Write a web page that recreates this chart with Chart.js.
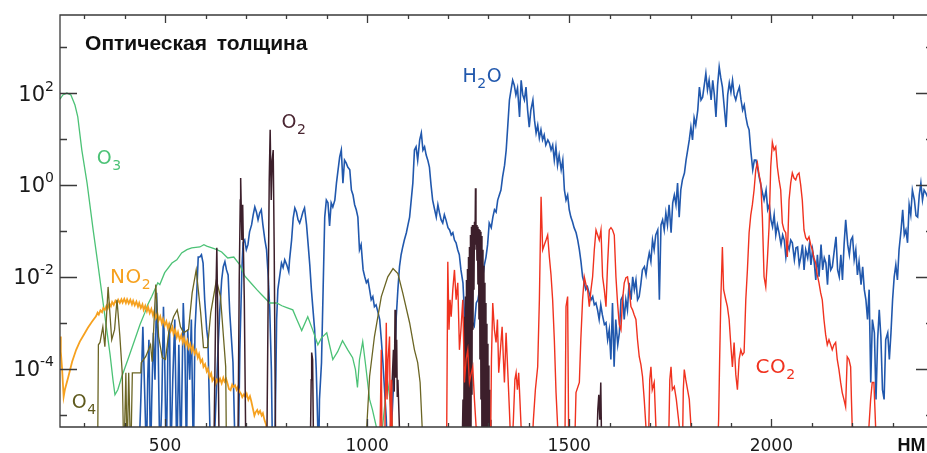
<!DOCTYPE html>
<html><head><meta charset="utf-8">
<script src="https://cdn.jsdelivr.net/npm/chart.js@4.4.1/dist/chart.umd.min.js"></script>
<style>html,body{margin:0;padding:0;overflow:hidden;background:#fff}canvas{display:block}</style>
</head><body>
<canvas id="c" width="934" height="453"></canvas>
<script>
// wavelength (nm), log10(optical depth); -6 = below the plotted range
const h2oLog = [
[435,-6],[440,-4.67],[445,-3.09],[450,-4.67],[454,-6],[457,-4.24],[460,-3.37],[464,-6],[467,-4.67],[471,-3.22],[475,-4.24],[479,-2.35],[483,-3.59],[487,-6],[492,-4.67],[496,-2.65],[499,-3.80],[503,-6],[507,-3.59],[511,-3.00],[514,-6],[519,-4.24],[524,-2.93],[529,-6],[534,-3.48],[539,-6],[545,-2.57],[549,-3.59],[553,-6],[556,-3.15],[561,-4.24],[565,-2.93],[570,-6],[574,-3.15],[578,-2.43],[582,-1.57],[586,-1.57],[590,-1.52],[594,-1.70],[598,-2.50],[603,-3.15],[606,-3.37],[611,-5.33],[615,-6],
[618,-6],[623,-5.33],[630,-3.80],[635,-2.78],[640,-2.07],[644,-1.78],[648,-1.67],[652,-1.85],[656,-1.96],[660,-2.78],[668,-3.87],[672,-5.33],[677,-6],
[681,-6],[685,-3.59],[690,-1.85],[693,-1.26],[697,-1.20],[701,-1.41],[705,-1.30],[709,-1.02],[714,-0.87],[718,-0.65],[722,-0.48],[726,-0.59],[730,-0.76],[734,-0.61],[738,-0.54],[742,-0.87],[747,-1.20],[751,-1.41],[755,-1.96],[759,-2.72],[763,-4.02],[765,-5.33],[766,-6],
[771,-6],[774,-4.24],[776,-2.93],[779,-2.28],[784,-1.96],[788,-1.70],[792,-1.80],[796,-1.63],[801,-1.74],[806,-1.89],[808,-1.63],[813,-1.20],[817,-0.72],[821,-0.50],[825,-0.59],[829,-0.76],[833,-0.83],
[837,-0.72],[841,-0.59],[845,-0.50],[850,-0.87],[854,-1.30],[858,-1.74],[862,-2.28],[866,-2.72],[870,-3.15],[874,-4.02],[878,-5.33],[880,-6],[882,-4.67],[887,-3.87],[891,-2.28],[895,-0.70],[899,-0.33],[903,-0.39],[907,-0.89],[911,-0.39],[915,-0.48],[920,-0.33],[924,0.04],[928,0.33],[932,0.61],[936,0.76],[940,0.04],[944,0.54],[948,0.48],[952,0.39],[957,0.33],[961,-0.11],[965,-0.22],[969,-0.43],[973,-0.54],[977,-0.70],[981,-1.41],[985,-1.30],[990,-1.85],[994,-2.00],[998,-2.13],[1002,-2.07],[1006,-2.28],[1010,-2.50],[1014,-2.43],[1018,-2.65],[1022,-2.61],[1027,-2.78],[1031,-2.93],[1035,-3.37],[1039,-3.87],[1043,-4.46],[1047,-5.04],[1051,-6],
[1055,-6],[1060,-5.33],[1064,-4.57],[1068,-3.96],[1072,-2.87],[1076,-2.28],[1080,-1.78],[1084,-1.52],[1088,-1.35],[1092,-1.20],[1097,-1.04],[1101,-0.87],[1105,-0.70],[1109,-0.33],[1113,0.04],[1117,0.76],[1121,0.83],[1125,0.54],[1130,0.98],[1134,1.13],[1138,0.76],[1142,0.83],[1146,0.65],[1150,0.54],[1154,0.39],[1158,0],[1162,-0.33],[1167,-0.54],[1171,-0.70],[1175,-0.43],[1179,-0.61],[1183,-0.76],[1187,-0.83],[1191,-0.65],[1195,-0.76],[1200,-0.93],[1204,-0.98],[1208,-1.09],[1212,-1.04],[1216,-1.20],[1220,-1.26],[1224,-1.41],[1228,-1.52],[1232,-1.85],[1237,-2.13],[1241,-2.87],[1245,-2.72],[1249,-2.93],[1253,-2.83],[1257,-2.98],[1261,-3.00],[1265,-3.07],[1270,-2.57],[1274,-2.50],[1278,-2.28],[1282,-2.17],[1286,-2.00],[1290,-1.74],[1294,-1.57],[1298,-1.30],[1302,-0.83],[1307,-0.93],[1311,-0.70],[1315,-0.54],[1319,-0.59],[1323,-0.33],[1327,-0.22],[1331,-0.11],[1335,0.17],[1340,0.43],[1344,0.76],[1348,1.30],[1352,1.85],[1356,2.07],[1360,2.28],[1364,2.17],[1368,1.96],[1372,2.11],[1377,1.48],[1381,2.28],[1385,1.96],[1389,1.85],[1393,2.13],[1397,1.63],[1401,1.26],[1405,1.63],[1410,1.85],[1414,1.41],[1418,1.13],[1422,1.30],[1426,1.02],[1430,1.20],[1434,0.98],[1438,1.09],[1442,0.87],[1447,0.98],[1451,0.91],[1455,0.76],[1459,0.87],[1463,0.54],[1467,0.83],[1471,0.43],[1475,0.65],[1480,0.33],[1484,0.54],[1488,-0.11],[1492,-0.33],[1496,-0.22],[1500,-0.54],[1504,-0.70],[1508,-0.80],[1512,-0.93],[1517,-1.04],[1521,-1.20],[1525,-1.41],[1529,-1.67],[1533,-2.00],[1537,-2.13],[1541,-2.28],[1545,-2.22],[1549,-2.35],[1554,-2.50],[1558,-2.43],[1562,-2.61],[1566,-2.57],[1570,-2.72],[1574,-2.93],[1578,-2.61],[1582,-2.83],[1587,-3.04],[1591,-3.00],[1595,-3.37],[1599,-3.15],[1603,-3.80],[1607,-2.57],[1611,-3.96],[1615,-2.93],[1620,-3.48],[1624,-3.22],[1628,-2.50],[1632,-2.43],[1636,-2.93],[1640,-2.50],[1644,-2.72],[1648,-2.13],[1653,-2.50],[1657,-2.00],[1661,-2.28],[1665,-2.07],[1669,-2.50],[1673,-2.43],[1677,-2.17],[1681,-1.85],[1686,-1.78],[1690,-1.96],[1694,-1.67],[1698,-1.48],[1702,-1.67],[1706,-1.20],[1710,-1.41],[1714,-1.09],[1719,-0.98],[1723,-2.50],[1727,-0.87],[1731,-0.76],[1735,-0.98],[1739,-0.61],[1743,-0.87],[1747,-0.43],[1752,-1.04],[1756,-0.39],[1760,-0.22],[1764,-0.43],[1768,0.04],[1772,-0.70],[1776,-0.11],[1780,0.11],[1785,0.26],[1789,0.54],[1793,0.76],[1797,0.98],[1801,1.26],[1805,0.98],[1809,1.46],[1813,1.30],[1818,1.63],[1822,2.13],[1826,1.85],[1830,1.91],[1834,2.17],[1838,2.43],[1842,2.07],[1846,2.28],[1851,1.85],[1855,2.28],[1859,1.96],[1863,1.48],[1867,2.17],[1871,2.57],[1875,2.33],[1879,2.13],[1883,1.74],[1888,1.26],[1892,1.96],[1896,2.22],[1900,2.02],[1904,2.28],[1908,1.96],[1912,1.85],[1916,2.00],[1921,2.13],[1925,1.85],[1929,1.63],[1933,1.74],[1937,1.48],[1941,1.30],[1945,1.20],[1949,0.76],[1954,0.33],[1958,0.54],[1962,0.54],[1966,0.37],[1970,0.17],[1974,0],[1978,-0.17],[1982,-0.33],[1987,-0.11],[1991,-0.54],[1995,-0.43],[1999,-0.76],[2003,-0.91],[2007,-0.65],[2011,-1.09],[2015,-0.87],[2019,-1.04],[2024,-1.30],[2028,-1.09],[2032,-1.20],[2036,-1.57],[2040,-1.30],[2044,-1.41],[2048,-1.20],[2052,-1.26],[2057,-1.63],[2061,-1.37],[2065,-1.35],[2069,-1.74],[2073,-1.57],[2077,-1.30],[2081,-1.85],[2085,-1.41],[2090,-1.59],[2094,-1.30],[2098,-1.74],[2102,-1.41],[2106,-1.67],[2110,-2.07],[2114,-1.52],[2118,-2.00],[2123,-1.30],[2127,-1.85],[2131,-1.59],[2135,-1.70],[2139,-2.17],[2143,-1.52],[2147,-1.85],[2151,-1.78],[2156,-1.41],[2160,-1.13],[2164,-1.85],[2168,-2.00],[2172,-1.52],[2176,-2.07],[2180,-1.30],[2184,-0.76],[2189,-1.30],[2193,-1.52],[2197,-1.20],[2201,-1.13],[2205,-1.63],[2209,-1.41],[2213,-1.96],[2217,-1.67],[2222,-2.17],[2226,-1.78],[2230,-2.28],[2234,-2.50],[2238,-2.93],[2242,-2.28],[2246,-4.30],[2250,-2.93],[2255,-3.22],[2259,-4.67],[2263,-3.37],[2267,-2.72],[2271,-3.30],[2275,-4.46],[2279,-4.67],[2283,-3.37],[2288,-3.22],[2292,-3.80],[2296,-3.22],[2300,-2.50],[2304,-2.00],[2308,-1.74],[2312,-2.07],[2316,-1.41],[2321,-0.98],[2325,-0.54],[2329,-1.09],[2333,-0.98],[2337,-1.26],[2341,-0.43],[2345,-0.65],[2349,-0.11],[2354,-0.33],[2358,-0.67],[2362,-0.70],[2366,-0.22],[2370,0.04],[2374,-0.33],[2378,-0.11],[2382,-0.17],[2390,-0.33],[2397,-0.54]
];
const co2Log = [
[1030.7,-6],[1033.2,-4.67],[1034.9,-3.59],[1036.9,-6],[1043,-6],[1045.5,-4.24],[1047.3,-3.00],[1049.2,-4.67],[1051.7,-3.80],[1055.4,-3.30],[1057.9,-6],[1060.4,-4.24],[1062.8,-6],
[1196.3,-6],[1199.5,-1.67],[1202.5,-3.15],[1205,-2.50],[1207.9,-2.87],[1211.9,-2.28],[1216,-1.85],[1220.1,-2.50],[1224.2,-2.13],[1228.3,-3.59],[1232,-3.15],[1236.6,-2.50],[1240.7,-4.30],[1244.8,-3.80],[1248.9,-3.59],[1253,-4.30],[1256.7,-4.13],[1261.3,-3.96],[1265.4,-4.67],[1269.5,-5.26],[1271.6,-6],
[1305,-6],[1307.5,-3.80],[1310.7,-2.57],[1314.8,-3.15],[1318.9,-3.43],[1322.3,-2.93],[1325.5,-4.09],[1329.7,-3.59],[1333.9,-3.09],[1337.1,-3.80],[1339.6,-4.30],[1343.7,-3.22],[1347.7,-4.02],[1351.9,-4.89],[1356.8,-6],[1361.8,-5.11],[1365.5,-4.24],[1368.5,-4.09],[1371.7,-4.46],[1374.9,-4.09],[1377.9,-4.67],[1380.8,-5.26],[1382.8,-6],
[1406.3,-6],[1411.3,-5.11],[1416.2,-4.46],[1421.9,-3.96],[1426.1,-2.50],[1430.3,-0.26],[1434.2,-1.41],[1438.4,-1.30],[1442.6,-1.20],[1446.6,-1.09],[1450.8,-1.57],[1454.9,-1.96],[1458.9,-2.50],[1463.1,-3.37],[1467.3,-4.52],[1471.3,-5.26],[1474.2,-6],
[1489,-6],[1492,-2.65],[1496,-2.43],[1499,-6],
[1512.6,-6],[1516.7,-4.52],[1525,-4.30],[1528.6,-3.37],[1533,-2.50],[1537.2,-2.00],[1541.4,-2.17],[1545.4,-2.28],[1549.6,-2.65],[1553.8,-2.28],[1557.8,-2.00],[1562,-1.41],[1566.2,-0.98],[1570.2,-1.09],[1574.3,-1.20],[1578.5,-0.98],[1582.5,-2.00],[1586.7,-2.28],[1590.9,-2.65],[1594.8,-1.74],[1599,-0.98],[1603.2,-0.93],[1607.2,-0.98],[1611.4,-1.09],[1615.5,-2.00],[1619.5,-2.57],[1623.8,-3.04],[1627.9,-3.15],[1631.9,-2.50],[1636.1,-2.13],[1640.3,-2.02],[1644.2,-2.00],[1648.5,-2.28],[1652.6,-2.65],[1656.6,-2.72],[1660.8,-2.83],[1665,-2.93],[1668.9,-3.37],[1673.2,-3.74],[1677.3,-3.91],[1681.3,-4.17],[1685.5,-4.67],[1689.7,-5.26],[1691.6,-6],
[1695.4,-6],[1699.1,-4.24],[1702.1,-3.96],[1705.3,-4.46],[1710.2,-4.30],[1714.4,-5.26],[1716.4,-6],
[1745.1,-6],[1748.8,-4.24],[1751.8,-3.96],[1755,-4.46],[1759.9,-4.39],[1764.9,-4.67],[1772.3,-5.26],[1774.7,-6],
[1779.7,-6],[1782.2,-4.46],[1784.6,-4.02],[1788.3,-4.24],[1792.8,-4.46],[1797,-4.67],[1801.2,-5.26],[1803.1,-6],
[1866,-6],[1869.6,-5.11],[1872.1,-3.80],[1875,-2.50],[1878.9,-1.35],[1881.9,-2.28],[1887.3,-2.50],[1891.3,-2.65],[1895.6,-2.93],[1899.7,-3.48],[1903.7,-3.96],[1907.9,-3.43],[1912.1,-4.13],[1916.1,-4.46],[1920.3,-3.80],[1924.5,-3.59],[1928.4,-3.70],[1932.6,-3.65],[1936.8,-2.50],[1940.8,-1.85],[1945,-1.04],[1949.2,-0.65],[1953.1,-0.43],[1957.3,-0.11],[1961.5,0.33],[1965.5,0.48],[1969.7,0.22],[1973.9,0.04],[1977.8,-0.70],[1982,-2.00],[1986.2,-2.22],[1990.2,-1.63],[1994.4,-0.91],[1998.5,0.39],[2002.5,0.93],[2006.7,0.76],[2010.9,0.83],[2014.9,0.39],[2019.1,0.11],[2023.2,-0.11],[2027.2,-0.83],[2031.4,-0.98],[2035.6,-1.04],[2039.6,-1.57],[2043.8,-0.33],[2047.9,0.04],[2051.9,0.26],[2056.1,0.15],[2060.3,0.11],[2064.3,0.22],[2068.5,0.26],[2072.6,0],[2076.6,-0.33],[2080.8,-0.98],[2085,-1.15],[2089,-1.20],[2093.2,-1.13],[2097.4,-1.30],[2101.3,-1.41],[2105.5,-1.59],[2109.7,-1.70],[2113.7,-1.96],[2117.9,-2.13],[2122.1,-2.35],[2126,-2.50],[2130.2,-2.93],[2134.4,-3.26],[2138.4,-3.48],[2142.6,-3.37],[2146.8,-3.48],[2150.7,-3.59],[2154.9,-3.48],[2159.1,-3.43],[2163.1,-3.80],[2167.3,-4.02],[2171.5,-4.30],[2175.4,-4.52],[2179.6,-4.67],[2183.8,-4.83],[2187.8,-3.74],[2192,-3.80],[2196.2,-3.96],[2198.2,-4.67],[2200.1,-5.26],[2201.8,-6],
[2239,-6],[2241.5,-5.26],[2245.7,-4.67],[2249.6,-4.30],[2253.8,-4.30],[2258,-5.26],[2260,-6]
];
const o3Log = [
[240,1.87],[247,1.96],[257,2.00],[267,1.96],[277,1.74],[284,1.48],[294,0.76],[307,0.04],[322,-0.98],[334,-1.74],[349,-2.72],[364,-3.70],[371,-4.24],[376,-4.57],[383,-4.46],[393,-4.17],[408,-3.80],[425,-3.37],[438,-3.04],[450,-2.78],[457,-2.61],[467,-2.43],[482,-2.13],[487,-2.17],[499,-1.91],[517,-1.70],[529,-1.63],[541,-1.48],[554,-1.41],[566,-1.37],[586,-1.35],[596,-1.30],[603,-1.33],[616,-1.37],[628,-1.41],[640,-1.46],[655,-1.59],[670,-1.57],[685,-1.74],[697,-1.98],[714,-2.15],[727,-2.28],[739,-2.39],[759,-2.57],[776,-2.57],[789,-2.63],[801,-2.67],[816,-2.72],[826,-2.93],[838,-3.17],[853,-2.87],[865,-3.15],[878,-3.48],[887,-3.33],[900,-3.22],[915,-3.80],[927,-3.63],[939,-3.39],[952,-3.59],[964,-3.76],[971,-4.02],[976,-4.41],[981,-3.80],[989,-3.41],[996,-3.91],[1006,-4.67],[1013,-4.89],[1023,-5.28],[1031,-6],[1038,-5.28],[1046,-4.57],[1050,-4.24],[1055,-4.57],[1063,-5.28],[1070,-6]
];
const no2Log = [
[240,-3.30],[242,-3.63],[245,-3.98],[249,-4.61],[252,-4.46],[260,-4.20],[270,-3.85],[280,-3.59],[289,-3.41],[299,-3.26],[309,-3.11],[319,-2.98],[329,-2.86],[333,-2.78],[336,-2.82],[340,-2.73],[344,-2.77],[347,-2.68],[351,-2.72],[355,-2.63],[358,-2.69],[362,-2.58],[366,-2.64],[369,-2.55],[373,-2.61],[377,-2.52],[381,-2.58],[384,-2.50],[388,-2.57],[392,-2.49],[395,-2.56],[399,-2.48],[403,-2.57],[406,-2.49],[410,-2.58],[414,-2.50],[418,-2.60],[421,-2.52],[425,-2.62],[429,-2.54],[433,-2.65],[436,-2.57],[440,-2.68],[444,-2.60],[447,-2.72],[451,-2.63],[455,-2.75],[458,-2.66],[462,-2.79],[466,-2.70],[470,-2.84],[473,-2.75],[477,-2.90],[481,-2.80],[484,-2.95],[488,-2.86],[492,-3.01],[495,-2.92],[499,-3.06],[503,-2.97],[507,-3.12],[510,-3.03],[514,-3.18],[518,-3.09],[521,-3.25],[525,-3.15],[529,-3.31],[532,-3.21],[536,-3.37],[540,-3.27],[544,-3.43],[547,-3.33],[551,-3.49],[555,-3.39],[558,-3.55],[562,-3.46],[566,-3.62],[569,-3.52],[573,-3.68],[577,-3.60],[581,-3.76],[584,-3.68],[588,-3.86],[592,-3.80],[595,-3.96],[599,-3.90],[603,-4.06],[606,-4.00],[610,-4.18],[614,-4.10],[617,-4.26],[621,-4.20],[625,-4.33],[628,-4.24],[632,-4.30],[636,-4.22],[640,-4.32],[644,-4.20],[647,-4.28],[651,-4.22],[655,-4.34],[658,-4.44],[662,-4.47],[666,-4.35],[669,-4.40],[673,-4.36],[677,-4.46],[680,-4.40],[684,-4.50],[688,-4.55],[691,-4.62],[695,-4.56],[699,-4.62],[702,-4.55],[706,-4.68],[710,-4.60],[713,-4.70],[717,-4.86],[721,-5.02],[724,-4.95],[728,-4.90],[731,-4.98],[735,-4.92],[739,-5.02],[742,-4.97],[746,-5.12],[750,-5.22],[755,-6]
];
const o4Log = [
[333,-6],[335,-3.48],[339,-3.43],[346,-3.09],[351,-3.52],[359,-2.22],[368,-3.37],[375,-3.15],[381,-2.50],[388,-3.28],[394,-4.09],[398,-6],[403,-4.09],[406,-6],[410,-4.09],[415,-6],[419,-4.09],[440,-4.09],[441,-3.87],[452,-3.74],[464,-3.48],[468,-3.85],[477,-2.17],[484,-3.30],[493,-3.76],[501,-3.80],[509,-3.22],[521,-2.87],[530,-2.72],[538,-3.09],[546,-3.22],[558,-3.15],[567,-2.35],[577,-1.85],[588,-2.78],[595,-3.54],[605,-3.54],[613,-2.78],[627,-2.07],[637,-2.43],[645,-3.37],[650,-3.96],[652,-6],
[994,-6],[999,-5.26],[1006,-4.17],[1018,-3.30],[1035,-2.43],[1051,-2.00],[1064,-1.82],[1076,-1.93],[1088,-2.35],[1105,-3.00],[1117,-3.59],[1125,-3.87],[1131,-4.30],[1136,-5.26],[1140,-6]
];
const o2Log = [
[620.5,-6],[625.5,-2.50],[628,-1.37],[630.4,-2.93],[634,-6],
[680,-6],[683.5,-2.07],[686,-0.33],[687,0.15],[690,-1.20],[692,-0.43],[696,-2.50],[700,-6],
[751.5,-6],[755,-2.50],[757.7,0.11],[760,1.20],[762.6,-0.33],[765,0.54],[767.5,0.76],[770,-1.41],[773.7,-6],
[859,-6],[861.5,-4.24],[862.7,-3.65],[865,-3.80],[867.6,-6],
[1055,-6],[1060,-4.67],[1065,-3.59],[1067,-4.50],[1069,-2.72],[1071,-4.20],[1073,-3.37],[1074.5,-4.60],[1076,-4.24],[1080,-5.33],[1083,-6],
[1234.6,-6],[1237.1,-4.67],[1238.3,-6],[1240.8,-2.87],[1242.0,-6],[1243.2,-2.43],[1244.5,-6],[1245.7,-2.07],[1247.0,-6],[1248.2,-1.83],[1249.4,-6],[1250.7,-1.57],[1251.9,-6],[1253.1,-1.35],[1254.4,-6],[1255.6,-1.09],[1256.8,-6],[1258.1,-0.91],[1259.3,-4.57],[1260.5,-0.87],[1261.8,-3.15],[1263.0,-0.91],[1264.2,-2.28],[1265.5,-0.80],[1266.7,-1.41],[1268.0,-0.07],[1269.2,-1.30],[1270.4,-0.87],[1271.7,-1.65],[1272.9,-0.91],[1274.1,-2.17],[1275.4,-0.96],[1276.6,-2.93],[1277.8,-0.98],[1279.1,-3.80],[1280.3,-1.02],[1281.5,-4.67],[1282.8,-1.11],[1284.0,-6],[1285.2,-1.41],[1286.5,-6],[1287.7,-1.76],[1288.9,-6],[1290.2,-2.13],[1291.4,-6],[1292.6,-2.57],[1293.9,-6],[1295.1,-3.02],[1296.3,-6],[1297.6,-3.46],[1298.8,-6],[1300.0,-3.93],[1301.3,-6],[1302.5,-4.46],[1303.7,-6],[1305.0,-5.11],[1306.2,-6],
[1567,-6],[1570.7,-4.89],[1573.1,-4.57],[1575.6,-5.11],[1578,-4.30],[1580.5,-6]
];
const xTickValues = [300,400,500,600,700,800,900,1000,1100,1200,1300,1400,1500,1600,1700,1800,1900,2000,2100,2200,2300];
const xTickLabels = ['500','1000','1500','2000'];
const yDecades = [-5,-4,-3,-2,-1,0,1,2,3];
const yLabelDecades = [-4,-2,0,2];

const toPts = arr => arr.map(p => ({x: p[0], y: Math.pow(10, p[1])}));

const C = {h2o:'#2158ad', co2:'#f0321f', o3:'#4cc276', no2:'#f6a11f', o4:'#6b6524', o2:'#3c1f2b'};

const formulaLabels = [
  {parts:[['H',0],['2',1],['O',0]], nm:1236, lg:2.24, color:C.h2o, size:19},
  {parts:[['O',0],['2',1]], nm:788, lg:1.24, color:'#4a2632', size:19},
  {parts:[['O',0],['3',1]], nm:331, lg:0.46, color:C.o3, size:19},
  {parts:[['N',0],['O',0],['2',1]], nm:364, lg:-2.13, color:C.no2, size:20},
  {parts:[['O',0],['4',1]], nm:269, lg:-4.85, color:'#5f5a1e', size:19},
  {parts:[['C',0],['O',0],['2',1]], nm:1961, lg:-4.09, color:C.co2, size:20}
];

const overlay = {
  id: 'overlay',
  afterDatasetsDraw(chart) {
    const ctx = chart.ctx, a = chart.chartArea, xs = chart.scales.x, ys = chart.scales.y;
    ctx.save();
    ctx.strokeStyle = '#3a3a3a';
    ctx.lineWidth = 1.3;
    ctx.beginPath();
    ctx.rect(a.left, a.top, a.right - a.left, a.bottom - a.top);
    xs.ticks.forEach(t => {
      const px = Math.round(xs.getPixelForValue(t.value)) + 0.5;
      const L = t.value % 500 === 0 ? 8 : 4;
      ctx.moveTo(px, a.bottom); ctx.lineTo(px, a.bottom - L);
      ctx.moveTo(px, a.top); ctx.lineTo(px, a.top + L);
    });
    ys.ticks.forEach(t => {
      const py = Math.round(ys.getPixelForValue(t.value)) + 0.5;
      const e = Math.round(Math.log10(t.value));
      const L = e % 2 === 0 ? 17 : 7;
      ctx.moveTo(a.left, py); ctx.lineTo(a.left + L, py);
      ctx.moveTo(a.right, py); ctx.lineTo(a.right - L, py);
    });
    ctx.stroke();

    // y tick labels: 10 with a raised exponent
    ctx.fillStyle = '#1a1a1a';
    ctx.textAlign = 'left';
    ctx.textBaseline = 'alphabetic';
    ys.ticks.forEach(t => {
      const e = Math.round(Math.log10(t.value));
      if (!yLabelDecades.includes(e)) return;
      const py = ys.getPixelForValue(t.value);
      const base = '10', ex = e < 0 ? '-' + Math.abs(e) : String(e);
      ctx.font = '21px "DejaVu Sans", Verdana, sans-serif';
      const wb = ctx.measureText(base).width;
      ctx.font = '14px "DejaVu Sans", Verdana, sans-serif';
      const we = ctx.measureText(ex).width;
      const x0 = a.left - 6 - wb - we;
      ctx.font = '21px "DejaVu Sans", Verdana, sans-serif';
      ctx.fillText(base, x0, py + 7.5);
      ctx.font = '14px "DejaVu Sans", Verdana, sans-serif';
      ctx.fillText(ex, x0 + wb, py - 2.5);
    });

    // title
    ctx.fillStyle = '#111';
    ctx.font = 'bold 21px "Liberation Sans", Arial, sans-serif';
    try { ctx.wordSpacing = '4px'; } catch (e) {}
    ctx.fillText('Оптическая толщина', xs.getPixelForValue(302), ys.getPixelForValue(Math.pow(10, 2.93)));
    try { ctx.wordSpacing = '0px'; } catch (e) {}

    // unit
    ctx.font = 'bold 18px "Liberation Sans", Arial, sans-serif';
    ctx.fillText('НМ', xs.getPixelForValue(2312), 451);

    // formula labels
    formulaLabels.forEach(l => {
      let cx = xs.getPixelForValue(l.nm);
      const by = ys.getPixelForValue(Math.pow(10, l.lg));
      ctx.fillStyle = l.color;
      l.parts.forEach(([t, sub]) => {
        const fs = sub ? Math.round(l.size * 0.72) : l.size;
        ctx.font = fs + 'px "DejaVu Sans", Verdana, sans-serif';
        ctx.fillText(t, cx, by + (sub ? l.size * 0.32 : 0));
        cx += ctx.measureText(t).width + 0.5;
      });
    });
    ctx.restore();
  }
};

const ds = (label, arr, color, w) => ({
  label, data: toPts(arr), borderColor: color, backgroundColor: color,
  borderWidth: w, pointRadius: 0, tension: 0, fill: false, clip: 0
});

new Chart(document.getElementById('c'), {
  type: 'line',
  data: {
    datasets: [
      ds('CO2', co2Log, C.co2, 1.4),
      ds('O2', o2Log, C.o2, 1.5),
      ds('O4', o4Log, C.o4, 1.3),
      ds('NO2', no2Log, C.no2, 1.8),
      ds('O3', o3Log, C.o3, 1.3),
      ds('H2O', h2oLog, C.h2o, 1.6)
    ]
  },
  options: {
    responsive: false,
    animation: false,
    devicePixelRatio: 1,
    layout: {padding: {top: 15, right: 1, left: 0, bottom: 0}},
    plugins: {legend: {display: false}, tooltip: {enabled: false}},
    scales: {
      x: {
        type: 'linear', min: 240, max: 2400,
        afterBuildTicks: s => { s.ticks = xTickValues.map(v => ({value: v})); },
        afterFit: s => { s.height = 26; },
        grid: {display: false, drawTicks: false},
        border: {display: false},
        ticks: {
          autoSkip: false, maxRotation: 0, minRotation: 0, padding: 9,
          color: '#1a1a1a', font: {family: 'DejaVu Sans', size: 17},
          callback: v => xTickLabels.includes(String(v)) ? String(v) : ''
        }
      },
      y: {
        type: 'logarithmic', min: Math.pow(10, -5.27), max: Math.pow(10, 3.70),
        afterBuildTicks: s => { s.ticks = yDecades.map(e => ({value: Math.pow(10, e)})); },
        afterFit: s => { s.width = 60; },
        grid: {display: false, drawTicks: false},
        border: {display: false},
        ticks: {display: false}
      }
    }
  },
  plugins: [overlay]
});
</script>
</body></html>
